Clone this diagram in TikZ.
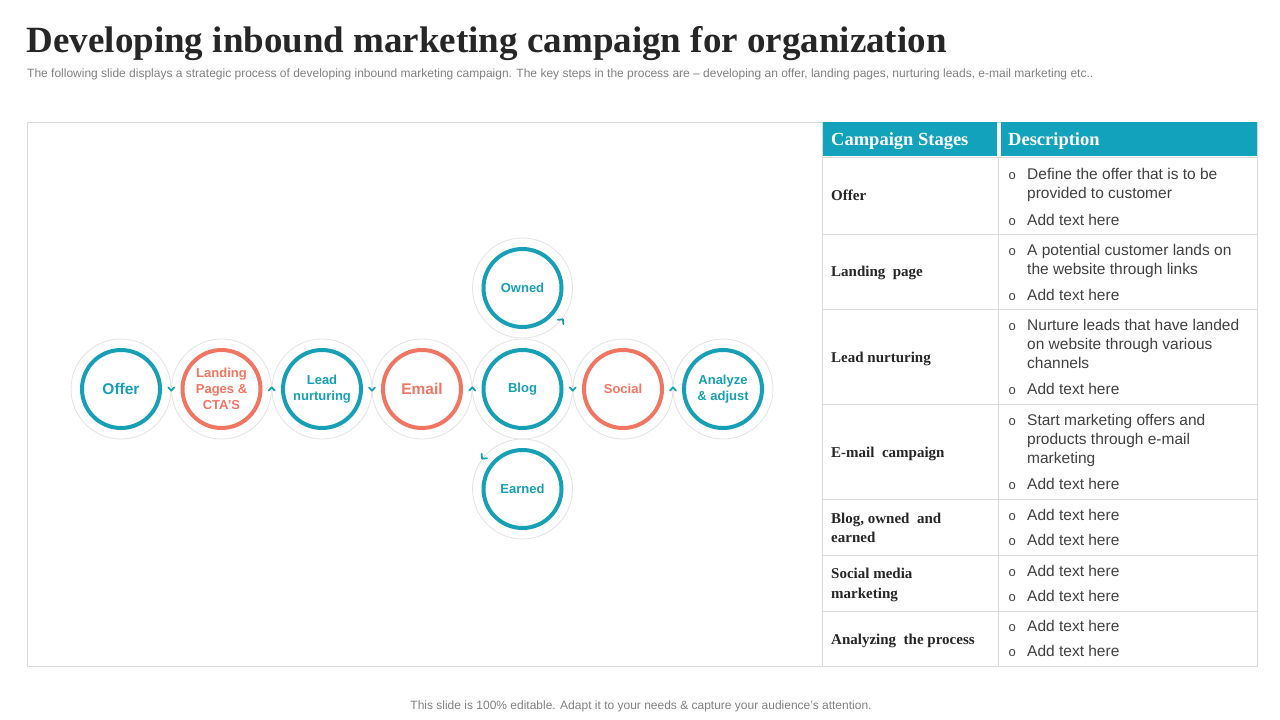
\documentclass[tikz,border=0pt]{standalone}
\usepackage{fontspec}
\setmainfont{Liberation Serif}
\setsansfont{Liberation Sans}
\usetikzlibrary{calc}
\definecolor{cteal}{HTML}{179FB5}
\definecolor{ccoral}{HTML}{F07562}
\definecolor{chead}{HTML}{12A2BC}
\definecolor{ringgray}{HTML}{E2E2E2}
\definecolor{linegray}{HTML}{DADADA}
\definecolor{titlegray}{HTML}{262626}
\definecolor{subgray}{HTML}{808080}
\definecolor{bodygray}{HTML}{404040}
\newcommand\fsz[2]{\fontsize{#1pt}{#2pt}\selectfont}

\begin{document}
\begin{tikzpicture}[x=1pt,y=-1pt,
    ring/.style={circle,draw=ringgray,line width=0.8pt,minimum size=100pt,inner sep=0pt},
    stage/.style={circle,line width=4pt,minimum size=78pt,inner sep=0pt,align=center,font=\sffamily\bfseries\fsz{13}{16}},
    tealst/.style={stage,draw=cteal,text=cteal},
    coralst/.style={stage,draw=ccoral,text=ccoral},
    chev/.style={draw=cteal,line width=1.8pt,line cap=round,line join=round},
    tabline/.style={draw=linegray,line width=0.9pt},
    headtext/.style={anchor=base west,inner sep=0pt,text=white,font=\bfseries\fsz{18.5}{22}},
    stagetext/.style={anchor=base west,inner sep=0pt,text=titlegray,font=\bfseries\fsz{15}{19}},
    desc/.style={anchor=base west,inner sep=0pt,text=bodygray,font=\sffamily\fsz{15.5}{19}},
    bulletmark/.style={anchor=base west,inner sep=0pt,text=bodygray,font=\sffamily\fsz{13}{15}}]
  \useasboundingbox (0,0) rectangle (1280,720);

  \node[anchor=base west,inner sep=0pt,text=titlegray,font=\bfseries\fsz{37}{44}] (title) at (26.5,52.5)
    {Developing inbound marketing campaign for organization};
  \node[anchor=base west,inner sep=0pt,text=subgray,font=\sffamily\fsz{12}{14}] (subtitle) at (27,77.7)
    {The following slide displays a strategic process of developing inbound marketing campaign. The key steps in the process are – developing an offer, landing pages, nurturing leads, e-mail marketing etc..};
  \node[anchor=base,inner sep=0pt,text=subgray,font=\sffamily\fsz{12}{14}] (footer) at (641,709)
    {This slide is 100\% editable. Adapt it to your needs \& capture your audience’s attention.};

  % table
  \draw[tabline] (27,122) rectangle (1257,666);
  \draw[tabline] (822,122) -- (822,666);
  \draw[tabline] (998,157) -- (998,666);
  \foreach \y in {157,234,309,404,499,555,611}
    \draw[tabline] (822,\y) -- (1257,\y);
  \fill[chead] (823,122) rectangle (997,156);
  \fill[chead] (1001,122) rectangle (1257,156);
  \node[headtext] (hstage) at (831,145.7) {Campaign Stages};
  \node[headtext] (hdesc) at (1008,145.7) {Description};

  \foreach \y/\t [count=\i] in {200/Offer, 276.7/Landing\ \ page, 362/Lead nurturing, 457/E-mail\ \ campaign,
      523.3/{Blog, owned\ \ and}, 542.7/earned, 578/Social media, 598/marketing, 644/Analyzing\ \ the process}
    \node[stagetext] (st\i) at (831,\y) {\t};

  \foreach \y/\t [count=\i] in {179.5/Define the offer that is to be, 198.5/provided to customer, 225/Add text here,
      255/A potential customer lands on, 274/the website through links, 300/Add text here,
      330.5/Nurture leads that have landed, 349.5/on website through various, 368.5/channels, 394.5/Add text here,
      425.5/Start marketing offers and, 444.5/products through e-mail, 463.5/marketing, 489.5/Add text here,
      520/Add text here, 545/Add text here, 576/Add text here, 601/Add text here, 631.7/Add text here, 656.7/Add text here}
    \node[desc] (ds\i) at (1027,\y) {\t};
  \foreach \y [count=\i] in {179.5,225,255,300,330.5,394.5,425.5,489.5,520,545,576,601,631.7,656.7}
    \node[bulletmark] (bl\i) at (1008.5,\y) {o};

  % circles
  \foreach \n/\x/\y in {offer/121/389, landing/221.5/389, lead/322/389, email/422/389, blog/522.5/389,
      social/623/389, analyze/723/389, owned/522.5/288, earned/522.5/489}
    \node[ring] (\n ring) at (\x,\y) {};

  \node[tealst,font=\sffamily\bfseries\fsz{15.5}{18}] (offer) at (121,389) {Offer};
  \node[coralst] (landing) at (221.5,389) {Landing\\Pages \&\\CTA’S};
  \node[tealst] (lead) at (322,389) {Lead\\nurturing};
  \node[coralst,font=\sffamily\bfseries\fsz{15.5}{18}] (email) at (422,389) {Email};
  \node[tealst] (blog) at (522.5,389) {Blog};
  \node[coralst] (social) at (623,389) {Social};
  \node[tealst] (analyze) at (723,389) {Analyze\\\& adjust};
  \node[tealst] (owned) at (522.5,288) {Owned};
  \node[tealst] (earned) at (522.5,489) {Earned};

  \foreach \a/\b/\s in {offer/landing/1, landing/lead/-1, lead/email/1, email/blog/-1, blog/social/1, social/analyze/-1}
    \draw[chev] ($(\a)!0.5!(\b)+(-3,-1.6*\s)$) -- ++(3,3.2*\s) -- ++(3,-3.2*\s);
  \draw[chev] ($(owned)+(35.5,31.8)$) -- ($(owned)+(40.4,31.3)$) -- ($(owned)+(40.9,36.2)$);
  \draw[chev] ($(earned)+(-35.5,-30.8)$) -- ($(earned)+(-40.4,-30.3)$) -- ($(earned)+(-40.9,-35.2)$);
\end{tikzpicture}
\end{document}
